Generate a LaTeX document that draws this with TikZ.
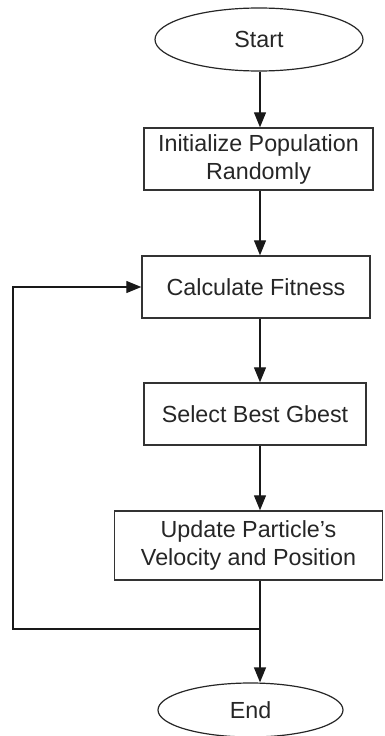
\documentclass[tikz,border=0pt]{standalone}
\usepackage{fontspec}
\setmainfont{Liberation Sans}
\usetikzlibrary{shapes.geometric,arrows.meta}
\begin{document}
\begin{tikzpicture}[x=1pt,y=-1pt,
  every node/.style={font=\fontsize{23.3}{28}\selectfont, text=black!85},
  boxnode/.style={draw=black!80, line width=1.4pt, rectangle, inner sep=0pt, align=center},
  termnode/.style={draw=black!85, line width=1.2pt, ellipse, inner sep=0pt},
  arr/.style={draw=black!90, line width=1.3pt, -{Triangle[length=15pt,width=12pt]}},
  ln/.style={draw=black!90, line width=1.3pt}]
\useasboundingbox (0,0) rectangle (385,736);
\coordinate (ax) at (260,0);
\coordinate (lx) at (13,0);
\node[termnode, minimum width=208, minimum height=63] (start) at (259,39.5) {Start};
\node[boxnode, minimum width=229, minimum height=62] (init) at (258.5,159) {Initialize Population\\Randomly};
\node[boxnode, minimum width=228, minimum height=62] (calc) at (256,287) {Calculate Fitness};
\node[boxnode, minimum width=222, minimum height=62] (sel) at (255,414) {Select Best Gbest};
\node[boxnode, minimum width=268, minimum height=69] (upd) at (248.5,545.5) {Update Particle’s\\Velocity and Position};
\node[termnode, minimum width=185, minimum height=54] (end) at (250.5,710) {End};
\coordinate (j) at (260,629);
\draw[arr] (start.south -| ax) -- (init.north -| ax);
\draw[arr] (init.south -| ax) -- (calc.north -| ax);
\draw[arr] (calc.south -| ax) -- (sel.north -| ax);
\draw[arr] (sel.south -| ax) -- (upd.north -| ax);
\draw[arr] (upd.south -| ax) -- (end.north -| ax);
\draw[arr] (j) -- (j -| lx) |- (calc.west);
\end{tikzpicture}
\end{document}
